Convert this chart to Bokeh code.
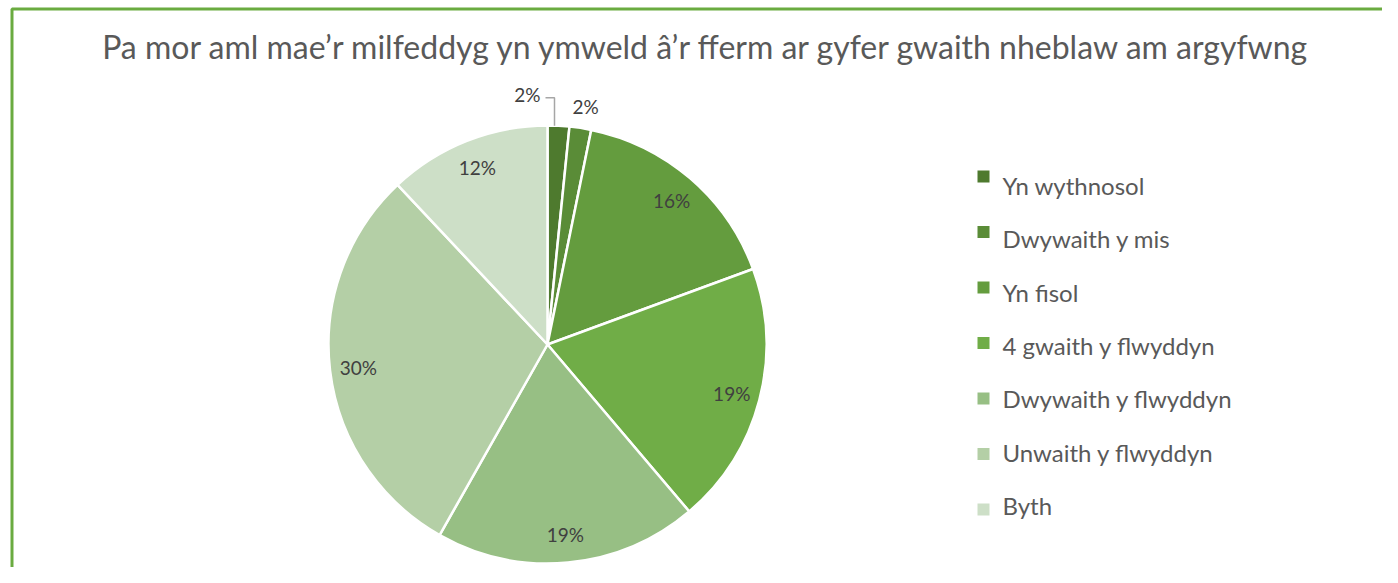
import math
from bokeh.plotting import figure
from bokeh.models import Range1d
from bokeh.core.properties import value
from bokeh.embed import file_html
from bokeh.resources import INLINE

title = "Pa mor aml mae\u2019r milfeddyg yn ymweld \u00e2\u2019r fferm ar gyfer gwaith nheblaw am argyfwng"
categories = ["Yn wythnosol", "Dwywaith y mis", "Yn fisol", "4 gwaith y flwyddyn",
              "Dwywaith y flwyddyn", "Unwaith y flwyddyn", "Byth"]
values = [1.6, 1.6, 16.2, 19.4, 19.4, 29.8, 12.0]
labels = ["2%", "2%", "16%", "19%", "19%", "30%", "12%"]
colors = ["#4e7a2e", "#5a8c37", "#649c3e", "#70ad47", "#97bf84", "#b4cfa6", "#cddfc7"]

W, H = 1382, 567
FONT = "Lato"

def sy(y):
    return 575 - y

p = figure(width=W, height=H, output_backend="svg", toolbar_location=None,
           x_range=Range1d(8, 8 + W), y_range=Range1d(0, H), min_border=0)
p.axis.visible = False
p.grid.visible = False
p.outline_line_color = None
p.background_fill_color = "white"
p.border_fill_color = "white"

# frame
p.quad(left=19.5, right=3000, top=sy(16.5), bottom=sy(3000), fill_color=None,
       line_color="#6aab40", line_width=3)

# title
p.text(x=[715], y=[sy(54)], text=[title], text_font=value(FONT), text_font_size="32px",
       text_color="#595959", text_align="center", text_baseline="middle")

# pie
cx, cy, r = 555, sy(352), 219
total = sum(values)
cum = 0.0
starts, ends, mids = [], [], []
for v in values:
    t0 = cum / total * 2 * math.pi
    cum += v
    t1 = cum / total * 2 * math.pi
    starts.append(math.pi / 2 - t1)
    ends.append(math.pi / 2 - t0)
    mids.append((t0 + t1) / 2)

p.wedge(x=[cx] * len(values), y=[cy] * len(values), radius=r,
        start_angle=starts, end_angle=ends, fill_color=colors,
        line_color="white", line_width=2.5)

# data labels
lx, ly, la = [], [], []
for i, (m, lab) in enumerate(zip(mids, labels)):
    if values[i] < 5:
        continue
    rr = 0.87 * r
    lx.append(cx + rr * math.sin(m))
    ly.append(cy + rr * math.cos(m))
    la.append(lab)
p.text(x=lx, y=ly, text=la, text_font=value(FONT), text_font_size="19px",
       text_color="#404040", text_align="center", text_baseline="middle")

# small slices: outside labels
m0, m1 = mids[0], mids[1]
p.text(x=[cx + 1.1 * r * math.sin(m1) + 2], y=[cy + 1.1 * r * math.cos(m1)], text=[labels[1]],
       text_font=value(FONT), text_font_size="19px", text_color="#404040",
       text_align="center", text_baseline="middle")
ex = cx + r * math.sin(m0) - 4
ey = cy + r * math.cos(m0)
p.line(x=[ex, ex, ex - 9], y=[ey, ey + 28, ey + 28], line_color="#a6a6a6", line_width=1.5)
p.text(x=[ex - 14], y=[ey + 31], text=[labels[0]], text_font=value(FONT), text_font_size="19px",
       text_color="#404040", text_align="right", text_baseline="middle")

# legend
n = len(categories)
mk_y = [sy(184 + 55.5 * i) for i in range(n)]
tx_y = [sy(193 + 53.3 * i) for i in range(n)]
p.rect(x=[991] * n, y=mk_y, width=12, height=12, fill_color=colors, line_color=None)
p.text(x=[1010] * n, y=tx_y, text=categories, text_font=value(FONT), text_font_size="24px",
       text_color="#595959", text_align="left", text_baseline="middle")

open("out.html", "w").write(file_html(p, INLINE))
